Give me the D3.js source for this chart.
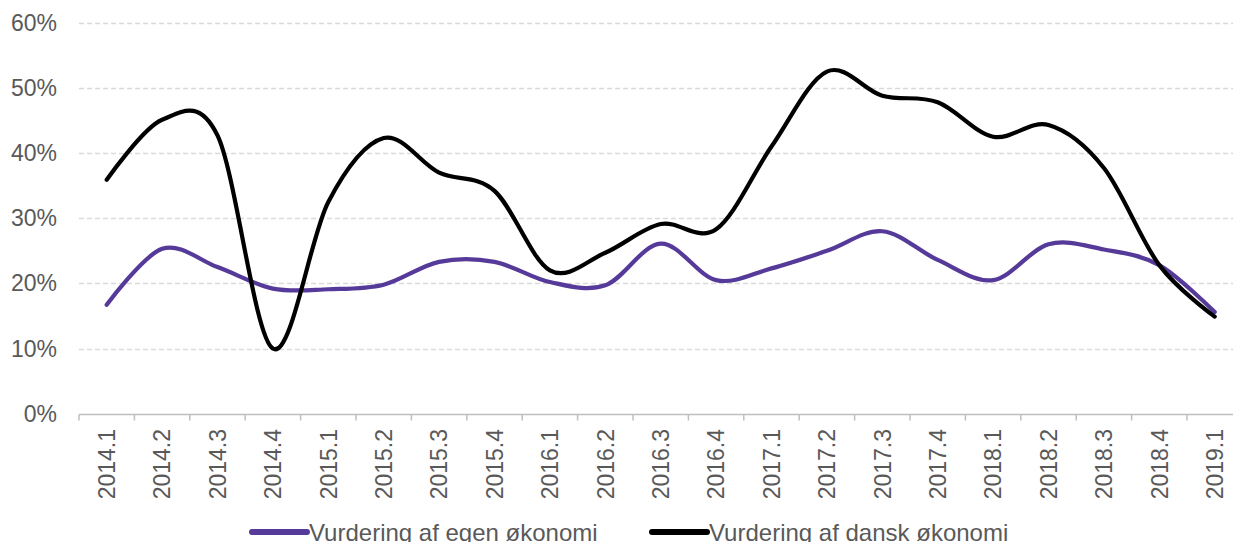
<!DOCTYPE html>
<html><head><meta charset="utf-8">
<script src="https://cdn.jsdelivr.net/npm/d3@7/dist/d3.min.js"></script>
<style>body{margin:0;background:#fff;} svg{display:block;font-family:"Liberation Sans",Arial,sans-serif;}</style>
</head><body><svg id="c" width="1233" height="542"></svg>
<script>
const categories = ["2014.1","2014.2","2014.3","2014.4","2015.1","2015.2","2015.3","2015.4","2016.1","2016.2","2016.3","2016.4","2017.1","2017.2","2017.3","2017.4","2018.1","2018.2","2018.3","2018.4","2019.1"];
const egen  = [16.7,25.3,22.5,19.2,19.1,19.8,23.3,23.3,20.2,19.7,26.1,20.5,22.3,25.0,28.0,23.6,20.5,26.0,25.2,22.8,15.6];
const dansk = [35.9,45.1,42.7,10.0,32.5,42.3,37.0,34.2,22.0,24.7,29.1,28.3,41.0,52.5,48.8,47.8,42.5,44.3,37.7,22.8,14.9];
const yTicks = [0,10,20,30,40,50,60];
const seriesNames = ["Vurdering af egen økonomi","Vurdering af dansk økonomi"];
const seriesColors = ["#553a99","#000000"];

const svg = d3.select("#c");
const left = 79, bandW = 55.4;
const x = d3.scaleBand().domain(categories).range([left, left + bandW*categories.length]);
const y = d3.scaleLinear().domain([0,60]).range([413.7, 22.7]);

// gridlines
svg.append("g").selectAll("line").data(yTicks.filter(d=>d>0)).join("line")
  .attr("x1", left).attr("x2", 1233)
  .attr("y1", d=>Math.round(y(d))+0.5).attr("y2", d=>Math.round(y(d))+0.5)
  .attr("stroke","#d9d9d9").attr("stroke-width",1.3).attr("stroke-dasharray","5,3");

// y labels
svg.append("g").selectAll("text").data(yTicks).join("text")
  .attr("x", 57).attr("y", d=>y(d)).attr("dy","0.35em")
  .attr("text-anchor","end").attr("fill","#595959").attr("font-size","23px")
  .text(d=>d+"%");

// x axis
const xa = svg.append("g").attr("transform",`translate(0,${Math.round(y(0))+0.5})`)
  .call(d3.axisBottom(x).tickSize(0).tickFormat(""));
xa.select(".domain").attr("stroke","#bfbfbf").attr("stroke-width",1.5).attr("d",`M${left},0H1233`);
xa.append("g").selectAll("line").data(d3.range(categories.length+1)).join("line")
  .attr("x1", i=>left+i*bandW).attr("x2", i=>left+i*bandW)
  .attr("y1",0).attr("y2",6).attr("stroke","#bfbfbf").attr("stroke-width",1.5);

svg.append("g").selectAll("text").data(categories).join("text")
  .attr("transform", d=>`translate(${x(d)+x.bandwidth()/2},429) rotate(-90)`)
  .attr("dy","0.36em").attr("text-anchor","end").attr("fill","#595959").attr("font-size","23px")
  .text(d=>d);

// lines
const line = d3.line().x((d,i)=>x(categories[i])+x.bandwidth()/2).y(d=>y(d)).curve(d3.curveCardinal.tension(0));
[egen, dansk].forEach((s,k)=>{
  svg.append("path").datum(s).attr("d",line).attr("fill","none")
    .attr("stroke",seriesColors[k]).attr("stroke-width",4.2)
    .attr("stroke-linecap","round").attr("stroke-linejoin","round");
});

// legend
const legX = [252, 652];
seriesNames.forEach((n,k)=>{
  const g = svg.append("g").attr("transform",`translate(${legX[k]},532)`);
  g.append("line").attr("x1",0).attr("x2",55).attr("y1",0).attr("y2",0)
    .attr("stroke",seriesColors[k]).attr("stroke-width",6).attr("stroke-linecap","round");
  g.append("text").attr("x",57).attr("y",0).attr("dy","0.36em").attr("fill","#595959")
    .attr("font-size","24px").text(n);
});
</script></body></html>
